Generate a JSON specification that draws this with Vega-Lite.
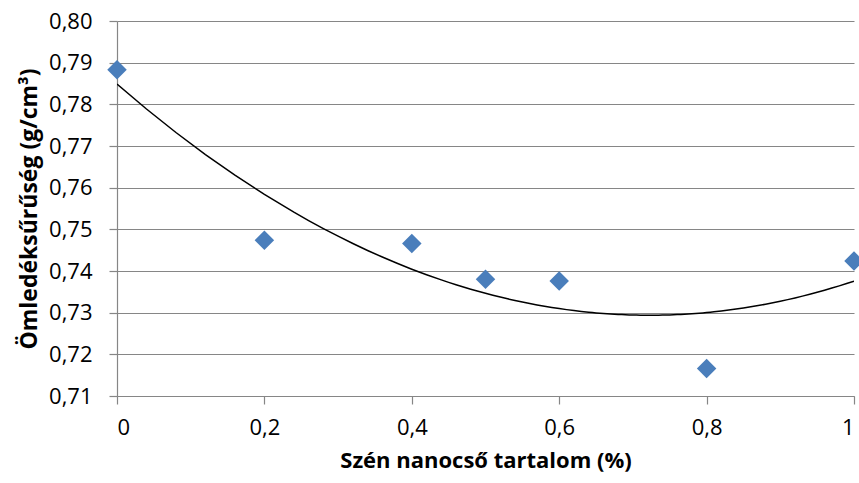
{
  "$schema": "https://vega.github.io/schema/vega-lite/v6.json",
  "width": 737,
  "height": 375,
  "autosize": {"type": "none"},
  "padding": {"left": 117, "top": 21, "right": 5, "bottom": 87},
  "background": "white",
  "data": {
    "values": [
      {"x": 0, "y": 0.7883},
      {"x": 0.2, "y": 0.7474},
      {"x": 0.4, "y": 0.7466},
      {"x": 0.5, "y": 0.7380},
      {"x": 0.6, "y": 0.7376},
      {"x": 0.8, "y": 0.7166},
      {"x": 1, "y": 0.7424}
    ]
  },
  "layer": [
    {
      "transform": [
        {"regression": "y", "on": "x", "method": "poly", "order": 2, "extent": [0, 1]}
      ],
      "mark": {"type": "line", "color": "black", "strokeWidth": 1.5, "clip": true},
      "encoding": {
        "x": {"field": "x", "type": "quantitative"},
        "y": {"field": "y", "type": "quantitative"}
      }
    },
    {
      "mark": {"type": "point", "shape": "diamond", "filled": true, "size": 380, "color": "#4a7ebb", "opacity": 1},
      "encoding": {
        "x": {
          "field": "x",
          "type": "quantitative",
          "scale": {"domain": [0, 1], "nice": false, "zero": false},
          "axis": {
            "values": [0, 0.2, 0.4, 0.6, 0.8, 1],
            "labelExpr": "replace(toString(datum.value), '.', ',')",
            "grid": false,
            "title": "Szén nanocső tartalom (%)",
            "titleFontWeight": "bold",
            "titleFontSize": 22,
            "titlePadding": 12,
            "labelPadding": 13,
            "labelFontSize": 22,
            "tickSize": 8,
            "tickColor": "#868686",
            "domainColor": "#868686",
            "labelColor": "black",
            "titleColor": "black"
          }
        },
        "y": {
          "field": "y",
          "type": "quantitative",
          "scale": {"domain": [0.71, 0.8], "nice": false, "zero": false},
          "axis": {
            "values": [0.71, 0.72, 0.73, 0.74, 0.75, 0.76, 0.77, 0.78, 0.79, 0.8],
            "labelExpr": "replace(format(datum.value, '.2f'), '.', ',')",
            "grid": true,
            "gridColor": "#868686",
            "title": "Ömledéksűrűség (g/cm³)",
            "titleFontWeight": "bold",
            "titleFontSize": 23,
            "titlePadding": 7,
            "labelPadding": 17,
            "labelFontSize": 22,
            "tickSize": 8,
            "tickColor": "#868686",
            "domainColor": "#868686",
            "labelColor": "black",
            "titleColor": "black"
          }
        }
      }
    }
  ],
  "config": {
    "font": "Open Sans",
    "view": {"stroke": null},
    "axis": {"domainWidth": 1.2, "gridWidth": 1.2, "tickWidth": 1.2}
  }
}
